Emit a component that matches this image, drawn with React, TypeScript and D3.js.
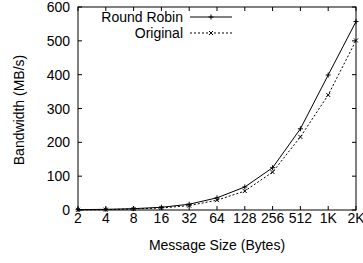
import React from "react";
import * as d3 from "d3";

const sizes = ["2", "4", "8", "16", "32", "64", "128", "256", "512", "1K", "2K"];
const roundRobin = [1, 2, 4, 8, 17, 36, 68, 125, 240, 399, 557];
const original = [0.5, 1, 3, 6, 13, 29, 56, 112, 216, 340, 501];
const yTicks = [0, 100, 200, 300, 400, 500, 600];

const W = 363;
const H = 263;
const margin = { top: 7, right: 7, bottom: 53, left: 78 };
const font = "'Liberation Sans', Arial, Helvetica, sans-serif";

export default function App() {
  const x = d3
    .scalePoint<string>()
    .domain(sizes)
    .range([margin.left, W - margin.right]);
  const y = d3
    .scaleLinear()
    .domain([0, 600])
    .range([H - margin.bottom, margin.top]);

  const line = d3
    .line<number>()
    .x((_, i) => x(sizes[i]) as number)
    .y((d) => y(d));

  const x0 = margin.left;
  const x1 = W - margin.right;
  const y0 = H - margin.bottom;
  const y1 = margin.top;
  const tick = 4;

  const plus = (cx: number, cy: number, k: string) => (
    <path
      key={k}
      d={`M${cx - 2.5},${cy}H${cx + 2.5}M${cx},${cy - 2.5}V${cy + 2.5}`}
      stroke="#000"
      strokeWidth={1}
    />
  );
  const cross = (cx: number, cy: number, k: string) => (
    <path
      key={k}
      d={`M${cx - 2},${cy - 2}L${cx + 2},${cy + 2}M${cx - 2},${cy + 2}L${cx + 2},${cy - 2}`}
      stroke="#000"
      strokeWidth={1}
    />
  );

  // legend position
  const legX = 183;
  const legL0 = 190;
  const legL1 = 232;

  return (
    <svg
      width={W}
      height={H}
      style={{ position: "absolute", left: 0, top: 0, background: "#fff" }}
      fontFamily={font}
    >
      {/* ticks on all four sides */}
      {yTicks.map((t) => (
        <g key={"yt" + t}>
          <line x1={x0} x2={x0 + tick} y1={y(t)} y2={y(t)} stroke="#000" />
          <line x1={x1} x2={x1 - tick} y1={y(t)} y2={y(t)} stroke="#000" />
          <text x={70} y={y(t)} dy="0.36em" textAnchor="end" fontSize={14}>
            {t}
          </text>
        </g>
      ))}
      {sizes.map((s) => (
        <g key={"xt" + s}>
          <line x1={x(s)} x2={x(s)} y1={y0} y2={y0 - tick} stroke="#000" />
          <line x1={x(s)} x2={x(s)} y1={y1} y2={y1 + tick} stroke="#000" />
          <text x={x(s)} y={223} textAnchor="middle" fontSize={14}>
            {s}
          </text>
        </g>
      ))}

      <rect
        x={x0}
        y={y1}
        width={x1 - x0}
        height={y0 - y1}
        fill="none"
        stroke="#000"
        strokeWidth={1}
      />

      {/* series */}
      <path d={line(roundRobin) || ""} fill="none" stroke="#000" strokeWidth={1} />
      <path
        d={line(original) || ""}
        fill="none"
        stroke="#000"
        strokeWidth={1}
        strokeDasharray="2,2"
      />
      {roundRobin.map((v, i) => plus(x(sizes[i]) as number, y(v), "rr" + i))}
      {original.map((v, i) => cross(x(sizes[i]) as number, y(v), "or" + i))}

      {/* legend */}
      <text x={legX} y={17} dy="0.36em" textAnchor="end" fontSize={14}>
        Round Robin
      </text>
      <line x1={legL0} x2={legL1} y1={17} y2={17} stroke="#000" />
      {plus((legL0 + legL1) / 2, 17, "lg1")}
      <text x={legX} y={33} dy="0.36em" textAnchor="end" fontSize={14}>
        Original
      </text>
      <line x1={legL0} x2={legL1} y1={33} y2={33} stroke="#000" strokeDasharray="2,2" />
      {cross((legL0 + legL1) / 2, 33, "lg2")}

      {/* axis titles */}
      <text x={217} y={250} textAnchor="middle" fontSize={14}>
        Message Size (Bytes)
      </text>
      <text
        transform={`translate(24,110) rotate(-90)`}
        textAnchor="middle"
        fontSize={14}
      >
        Bandwidth (MB/s)
      </text>
    </svg>
  );
}
